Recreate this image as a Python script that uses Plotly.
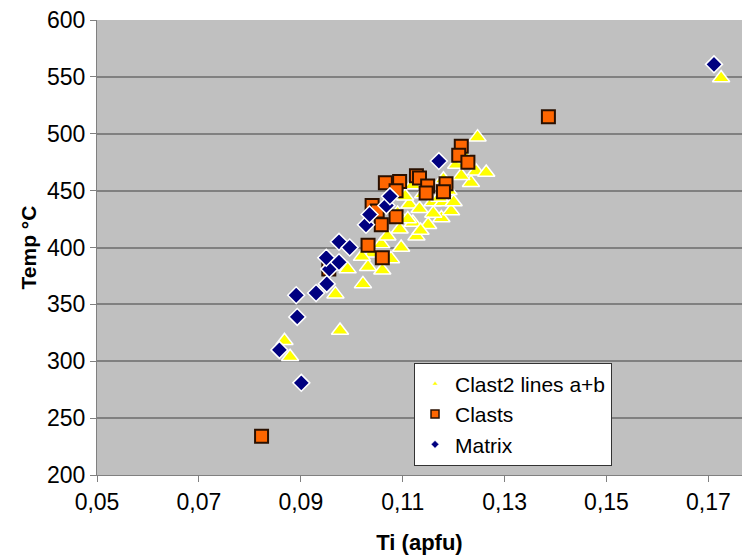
import plotly.graph_objects as go

# Clast2 lines a+b (yellow triangles)
clast2_x = [0.0868, 0.0879, 0.0968, 0.0977, 0.1022, 0.1032, 0.0992, 0.1058, 0.1077, 0.1097,
            0.1127, 0.1120, 0.1094, 0.1113, 0.1133, 0.1159, 0.1179, 0.1176, 0.1195, 0.1205,
            0.1234, 0.1244, 0.1264, 0.1247, 0.1725, 0.1172, 0.1140, 0.1105, 0.1090, 0.1160,
            0.1190, 0.1215, 0.1225, 0.1150, 0.1070, 0.1040, 0.1060, 0.1200, 0.1180, 0.1120,
            0.1110, 0.1020, 0.1135]
clast2_y = [318, 304, 359, 327, 368, 383, 381, 403, 390, 400,
            410, 422, 416, 438, 434, 440, 440, 426, 432, 473,
            457, 467, 466, 497, 549, 444, 447, 445, 430, 430,
            450, 463, 478, 420, 410, 395, 380, 440, 460, 455,
            425, 392, 415]

# Clasts (orange squares)
clasts_x = [0.0823, 0.0955, 0.1032, 0.1060, 0.1058, 0.1087, 0.1040, 0.1050, 0.1066, 0.1094,
            0.1127, 0.1133, 0.1149, 0.1146, 0.1185, 0.1180, 0.1087, 0.1215, 0.1210, 0.1228,
            0.1386]
clasts_y = [234, 381, 402, 391, 420, 427, 437, 432, 457, 458,
            463, 461, 454, 448, 456, 449, 450, 489, 481, 475,
            515]

# Matrix (navy diamonds)
matrix_x = [0.0858, 0.0891, 0.0893, 0.0901, 0.0930, 0.0951, 0.0956, 0.0950, 0.0975, 0.0975,
            0.0996, 0.1028, 0.1035, 0.1068, 0.1075, 0.1171, 0.1711]
matrix_y = [310, 358, 339, 281, 360, 368, 381, 391, 387, 405,
            400, 420, 429, 437, 445, 476, 561]

x_ticks = [0.05, 0.07, 0.09, 0.11, 0.13, 0.15, 0.17]
x_ticklabels = ["0,05", "0,07", "0,09", "0,11", "0,13", "0,15", "0,17"]
y_ticks = [200, 250, 300, 350, 400, 450, 500, 550, 600]

FONT = "Liberation Sans, Arial, sans-serif"

fig = go.Figure()
fig.add_trace(go.Scatter(x=clast2_x, y=clast2_y, mode="markers", showlegend=False,
                         marker=dict(symbol="triangle-up", size=15, color="#FFFF00",
                                     line=dict(color="#FFFFFF", width=1.5))))
fig.add_trace(go.Scatter(x=clasts_x, y=clasts_y, mode="markers", showlegend=False,
                         marker=dict(symbol="square", size=13, color="#FF6600",
                                     line=dict(color="#2A1000", width=2))))
fig.add_trace(go.Scatter(x=matrix_x, y=matrix_y, mode="markers", showlegend=False,
                         marker=dict(symbol="diamond", size=13, color="#000080",
                                     line=dict(color="#FFFFFF", width=1.5))))
# legend entries (small symbols as in the reference legend)
fig.add_trace(go.Scatter(x=[None], y=[None], mode="markers", name="Clast2 lines a+b",
                         marker=dict(symbol="triangle-up", size=5, color="#FFFF00",
                                     line=dict(color="#FFFFFF", width=0.5))))
fig.add_trace(go.Scatter(x=[None], y=[None], mode="markers", name="Clasts",
                         marker=dict(symbol="square", size=8, color="#FF6600",
                                     line=dict(color="#2A1000", width=1.5))))
fig.add_trace(go.Scatter(x=[None], y=[None], mode="markers", name="Matrix",
                         marker=dict(symbol="diamond", size=6, color="#000080",
                                     line=dict(color="#FFFFFF", width=0.5))))

fig.update_layout(
    width=747, height=559,
    margin=dict(l=97, r=5, t=20, b=84, autoexpand=False),
    paper_bgcolor="white", plot_bgcolor="#C0C0C0",
    separators=",.",
    font=dict(family=FONT, size=22, color="black"),
    showlegend=True,
    legend=dict(x=0.4915, y=0.247, xanchor="left", yanchor="top",
                bgcolor="white", bordercolor="#333333", borderwidth=1,
                font=dict(family=FONT, size=21, color="black"),
                itemwidth=30, tracegroupgap=0),
    xaxis=dict(range=[0.05, 0.1766], tickvals=x_ticks, ticktext=x_ticklabels,
               automargin=False, ticklabeloverflow="allow",
               showgrid=False, zeroline=False, showline=True, linecolor="#808080",
               linewidth=1, ticks="outside", ticklen=6, tickcolor="#808080",
               tickfont=dict(size=23),
               title=dict(text="<b>Ti (apfu)</b>", font=dict(size=22), standoff=21)),
    yaxis=dict(range=[200, 600], tickvals=y_ticks, showgrid=True, gridcolor="#808080",
               automargin=False, ticklabeloverflow="allow",
               gridwidth=1.5, zeroline=False, showline=True, linecolor="#808080",
               linewidth=1, ticks="outside", ticklen=6, tickcolor="#808080",
               tickfont=dict(size=23),
               title=dict(text="<b>Temp °C</b>", font=dict(size=21), standoff=4)),
)

fig.write_html("out.html", config={"displayModeBar": False},
               post_script="document.body.style.margin='0px';")
